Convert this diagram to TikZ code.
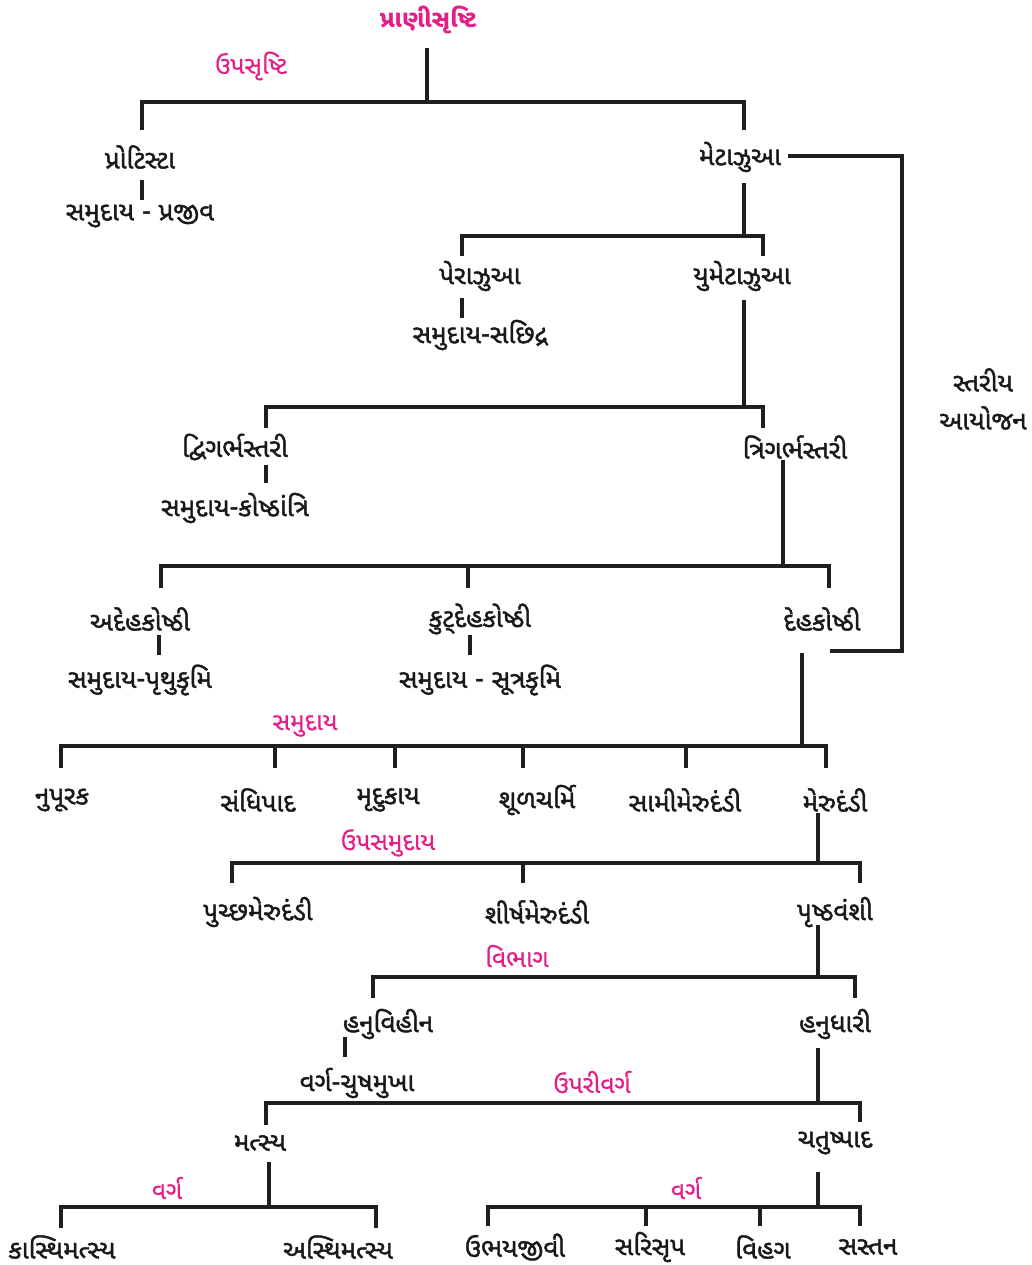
\documentclass[tikz,border=0pt]{standalone}
\usepackage{fontspec}
\newfontfamily\guj[Script=Gujarati]{Noto Sans Gujarati UI}
\newfontfamily\gujm[Script=Gujarati,FakeBold=1.6]{Noto Sans Gujarati UI}
\newfontfamily\gujc[Script=Gujarati,FakeBold=0.6]{Noto Sans Gujarati UI}
\definecolor{mag}{RGB}{228,30,135}
\tikzset{
  lbl/.style={font=\gujm\fontsize{19.5}{28.5}\selectfont, inner sep=0pt, text=black!90},
  cat/.style={inner sep=0pt, font=\gujc\fontsize{18.5}{22}\selectfont, text=mag},
  ln/.style={line width=2.3pt, draw=black!88, line join=miter}
}
\begin{document}
\begin{tikzpicture}[x=0.75pt,y=-0.75pt]
\useasboundingbox (0,0) rectangle (1032,1265);
% nodes
\node[cat,font=\guj\bfseries\fontsize{18}{20}\selectfont] (root) at (428,20) {પ્રાણીસૃષ્ટિ};
\node[cat] (lsub) at (251,66) {ઉપસૃષ્ટિ};
\node[lbl] (prot) at (140,157) {પ્રોટિસ્ટા};
\node[lbl] (protp) at (140,216) {સમુદાય - પ્રજીવ};
\node[lbl] (meta) at (740,157) {મેટાઝુઆ};
\node[lbl,align=center] (strat) at (983,399) {સ્તરીય\\આયોજન};
\node[lbl] (para) at (480,276) {પેરાઝુઆ};
\node[lbl] (parap) at (480,335) {સમુદાય-સછિદ્ર};
\node[lbl] (eume) at (742,276) {યુમેટાઝુઆ};
\node[lbl] (dipl) at (235,447) {દ્વિગર્ભસ્તરી};
\node[lbl] (diplp) at (235,508) {સમુદાય-કોષ્ઠાંત્રિ};
\node[lbl] (trip) at (795,447) {ત્રિગર્ભસ્તરી};
\node[lbl] (acoel) at (140,619) {અદેહકોષ્ઠી};
\node[lbl] (acoelp) at (140,680) {સમુદાય-પૃથુકૃમિ};
\node[lbl] (pseudo) at (480,619) {કુટ્^^^^200cદેહકોષ્ઠી};
\node[lbl] (pseudop) at (480,680) {સમુદાય - સૂત્રકૃમિ};
\node[lbl] (coel) at (822,619) {દેહકોષ્ઠી};
\node[cat] (lphy) at (305,726) {સમુદાય};
\node[lbl] (annel) at (62,800) {નુપૂરક};
\node[lbl] (arth) at (258,800) {સંધિપાદ};
\node[lbl] (moll) at (388,800) {મૃદુકાય};
\node[lbl] (echi) at (537,800) {શૂળચર્મિ};
\node[lbl] (hemi) at (685,800) {સામીમેરુદંડી};
\node[lbl] (chor) at (835,800) {મેરુદંડી};
\node[cat] (lsubph) at (388,843) {ઉપસમુદાય};
\node[lbl] (uro) at (258,912) {પુચ્છમેરુદંડી};
\node[lbl] (cephal) at (537,912) {શીર્ષમેરુદંડી};
\node[lbl] (vert) at (835,912) {પૃષ્ઠવંશી};
\node[cat] (ldiv) at (517,956) {વિભાગ};
\node[lbl] (agn) at (388,1024) {હનુવિહીન};
\node[lbl] (gnath) at (835,1024) {હનુધારી};
\node[lbl] (cycl) at (357,1083) {વર્ગ-ચુષમુખા};
\node[cat] (lsupcl) at (592,1082) {ઉપરીવર્ગ};
\node[lbl] (pisc) at (260,1143) {મત્સ્ય};
\node[lbl] (tetra) at (835,1143) {ચતુષ્પાદ};
\node[cat] (lcl1) at (167,1188) {વર્ગ};
\node[cat] (lcl2) at (686,1188) {વર્ગ};
\node[lbl] (chon) at (62,1247) {કાસ્થિમત્સ્ય};
\node[lbl] (oste) at (338,1247) {અસ્થિમત્સ્ય};
\node[lbl] (amph) at (515,1247) {ઉભયજીવી};
\node[lbl] (rept) at (650,1247) {સરિસૃપ};
\node[lbl] (aves) at (763,1247) {વિહગ};
\node[lbl] (mamm) at (868,1247) {સસ્તન};
% junction coordinates
\coordinate (r0) at (427,48);   \coordinate (r1) at (427,102);
\coordinate (a1) at (142,130);  \coordinate (a2) at (744,130);
\coordinate (p0) at (142,180);  \coordinate (p1) at (142,200);
\coordinate (h0) at (788,156);  \coordinate (h1) at (902,651); \coordinate (h2) at (830,651);
\coordinate (m0) at (744,183);  \coordinate (m1) at (744,236);
\coordinate (b1) at (462,256);  \coordinate (b2) at (763,256);
\coordinate (q0) at (462,298);  \coordinate (q1) at (462,318);
\coordinate (e0) at (744,300);  \coordinate (e1) at (744,407);
\coordinate (c1) at (266,428);  \coordinate (c2) at (763,428);
\coordinate (d0) at (266,465);  \coordinate (d1) at (266,483);
\coordinate (t0) at (783,460);  \coordinate (t1) at (783,566);
\coordinate (f1) at (161,588);  \coordinate (f2) at (468,588); \coordinate (f3) at (829,588);
\coordinate (g0) at (159,635);  \coordinate (g1) at (159,655);
\coordinate (k0) at (470,635);  \coordinate (k1) at (470,655);
\coordinate (s0) at (802,653);  \coordinate (s1) at (802,746);
\coordinate (n1) at (61,768);   \coordinate (n2) at (275,768); \coordinate (n3) at (395,768);
\coordinate (n4) at (523,768);  \coordinate (n5) at (686,768); \coordinate (n6) at (826,768);
\coordinate (u0) at (818,813);  \coordinate (u1) at (818,863);
\coordinate (v1) at (232,883);  \coordinate (v2) at (523,883); \coordinate (v3) at (860,883);
\coordinate (w0) at (818,925);  \coordinate (w1) at (818,977);
\coordinate (x1) at (373,998);  \coordinate (x2) at (855,998);
\coordinate (y0) at (345,1037); \coordinate (y1) at (345,1057);
\coordinate (z0) at (818,1048); \coordinate (z1) at (818,1103);
\coordinate (o1) at (266,1125); \coordinate (o2) at (860,1122);
\coordinate (i0) at (269,1162); \coordinate (i1) at (269,1207);
\coordinate (j1) at (61,1228);  \coordinate (j2) at (376,1228);
\coordinate (l0) at (818,1172); \coordinate (l1) at (818,1207);
\coordinate (k1a) at (488,1226); \coordinate (k2a) at (646,1226); \coordinate (k3a) at (760,1226); \coordinate (k4a) at (860,1226);
% connectors
\draw[ln] (r0) -- (r1);
\draw[ln] (a1) |- (r1) -| (a2);
\draw[ln] (p0) -- (p1);
\draw[ln] (h0) -| (h1) -- (h2);
\draw[ln] (m0) -- (m1);
\draw[ln] (b1) |- (m1) -| (b2);
\draw[ln] (q0) -- (q1);
\draw[ln] (e0) -- (e1);
\draw[ln] (c1) |- (e1) -| (c2);
\draw[ln] (d0) -- (d1);
\draw[ln] (t0) -- (t1);
\draw[ln] (f1) |- (t1) -| (f3);
\draw[ln] (f2) -- (f2 |- t1);
\draw[ln] (g0) -- (g1);
\draw[ln] (k0) -- (k1);
\draw[ln] (s0) -- (s1);
\draw[ln] (n1) |- (s1) -| (n6);
\foreach \c in {n2,n3,n4,n5} \draw[ln] (\c) -- (\c |- s1);
\draw[ln] (u0) -- (u1);
\draw[ln] (v1) |- (u1) -| (v3);
\draw[ln] (v2) -- (v2 |- u1);
\draw[ln] (w0) -- (w1);
\draw[ln] (x1) |- (w1) -| (x2);
\draw[ln] (y0) -- (y1);
\draw[ln] (z0) -- (z1);
\draw[ln] (o1) |- (z1) -| (o2);
\draw[ln] (i0) -- (i1);
\draw[ln] (j1) |- (i1) -| (j2);
\draw[ln] (l0) -- (l1);
\draw[ln] (k1a) |- (l1) -| (k4a);
\foreach \c in {k2a,k3a} \draw[ln] (\c) -- (\c |- l1);
\end{tikzpicture}
\end{document}
